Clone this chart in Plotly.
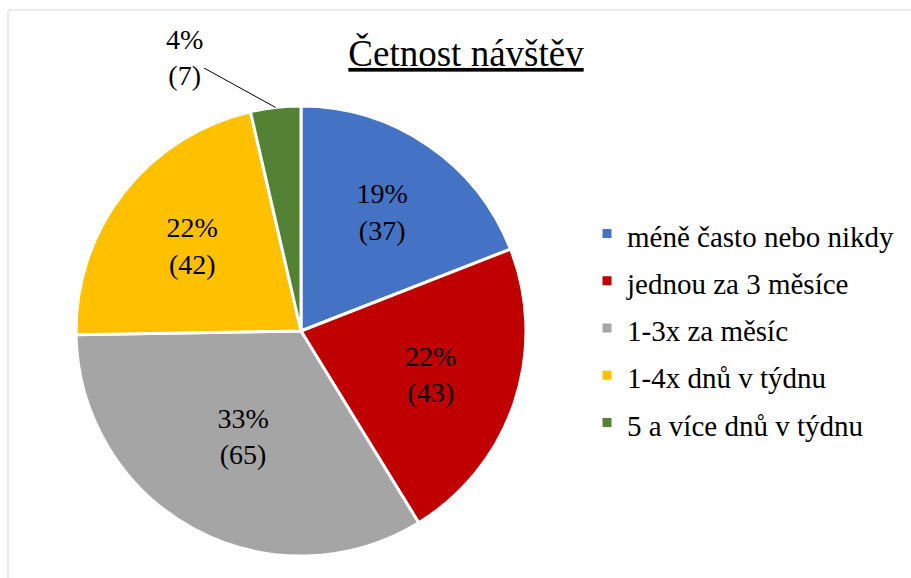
import math
import plotly.graph_objects as go

# ---- data ----
categories = ["méně často nebo nikdy", "jednou za 3 měsíce", "1-3x za měsíc",
              "1-4x dnů v týdnu", "5 a více dnů v týdnu"]
counts = [37, 43, 65, 42, 7]
pct_labels = ["19%", "22%", "33%", "22%", "4%"]
colors = ["#4472C4", "#C00000", "#A5A5A5", "#FFC000", "#548235"]
title_text = "Četnost návštěv"

W, H = 911, 578
FONT = "Liberation Serif"

# pie domain (paper fractions)
dom_x = [76 / W, 526 / W]
dom_y = [1 - 556 / H, 1 - 106 / H]

texts = [f"{p}<br>({c})" if i < 4 else "" for i, (p, c) in enumerate(zip(pct_labels, counts))]
legend_labels = [f"<span style='font-size:29px'>{c}</span>" for c in categories]

fig = go.Figure(go.Pie(
    labels=legend_labels,
    values=counts,
    text=texts,
    textinfo="text",
    textposition="inside",
    insidetextorientation="horizontal",
    sort=False,
    direction="clockwise",
    rotation=0,
    marker=dict(colors=colors, line=dict(color="white", width=3)),
    textfont=dict(family=FONT, size=28, color="black"),
    domain=dict(x=dom_x, y=dom_y),
    hoverinfo="skip",
))

# leader label for smallest slice, anchored at its outer edge midpoint
total = sum(counts)
start = sum(counts[:4])
mid_frac = (start + counts[4] / 2) / total
theta = 2 * math.pi * mid_frac
cx_px = (dom_x[0] + dom_x[1]) / 2 * W
cy_px = (1 - (dom_y[0] + dom_y[1]) / 2) * H
R_px = min((dom_x[1] - dom_x[0]) * W, (dom_y[1] - dom_y[0]) * H) / 2
ex = cx_px + R_px * math.sin(theta)
ey = cy_px - R_px * math.cos(theta)

fig.add_annotation(
    x=ex / W, y=1 - ey / H, xref="paper", yref="paper",
    text=f"{pct_labels[4]}<br>({counts[4]})",
    showarrow=True, arrowhead=0, arrowwidth=1, arrowcolor="black",
    ax=184 - ex, ay=57 - ey, standoff=0,
    font=dict(family=FONT, size=28, color="black"),
)

# chart-area border
fig.add_shape(type="rect", xref="paper", yref="paper",
              x0=8 / W, x1=1.02, y0=-0.02, y1=1 - 10 / H,
              line=dict(color="#D9D9D9", width=1), fillcolor="rgba(0,0,0,0)")

fig.update_layout(
    width=W, height=H,
    margin=dict(l=0, r=0, t=0, b=0),
    paper_bgcolor="white", plot_bgcolor="white",
    font=dict(family=FONT, color="black"),
    title=dict(text=f"<u>{title_text}</u>", x=466 / W, y=1 - 53 / H,
               xanchor="center", yanchor="middle",
               font=dict(family=FONT, size=37, color="black")),
    legend=dict(x=587 / W, y=1 - 328 / H, xanchor="left", yanchor="middle",
                font=dict(family=FONT, size=34, color="black"),
                bgcolor="rgba(0,0,0,0)"),
    showlegend=True,
)

fig.write_html("out.html", post_script="document.body.style.margin='0';",
               config={"displayModeBar": False})
